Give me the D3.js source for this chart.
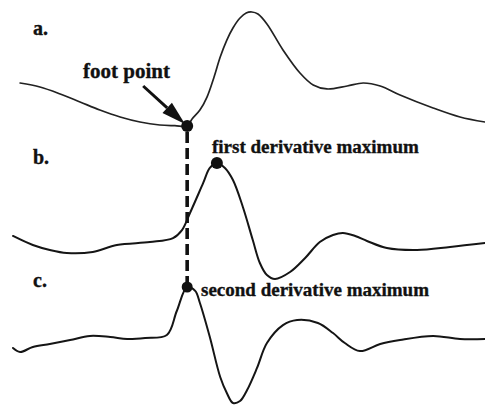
<!DOCTYPE html>
<html>
<head>
<meta charset="utf-8">
<script src="https://cdn.jsdelivr.net/npm/d3@7"></script>
<style>
  html, body { margin: 0; padding: 0; background: #fff; }
  svg { display: block; }
  text { font-family: "Liberation Serif", "Times New Roman", serif; font-weight: bold; fill: #111; stroke: #111; stroke-width: 0.35; }
</style>
</head>
<body>
<svg id="chart" width="485" height="405"></svg>
<script>
// ---- Data (time in ms, amplitude normalised 0..100 per trace) ----
const timeA = [15, 57, 100, 142, 184, 227, 269, 311, 343, 369, 379, 396, 411, 426, 439, 453, 466, 481, 494, 506, 519, 538, 572, 608, 636, 665, 708, 742, 778, 820, 890, 947, 1000];
const valuesA = [37.7, 34.2, 28.1, 21.1, 14.0, 7.9, 3.5, 0.9, 0.3, 0, 6.0, 14.0, 25.4, 43.0, 60.5, 75.4, 86.0, 94.7, 99.1, 100, 98.2, 89.5, 66.7, 46.5, 36.0, 32.5, 35.1, 37.7, 35.1, 27.2, 15.8, 7.9, 3.5];

const timeB = [0, 42, 78, 114, 169, 220, 290, 339, 358, 375, 403, 417, 432, 449, 466, 487, 508, 523, 538, 555, 587, 619, 650, 678, 699, 725, 750, 792, 856, 926, 1000];
const valuesB = [37.1, 29.3, 25.0, 22.4, 23.3, 29.3, 31.9, 35.3, 42.2, 56.9, 82.8, 95.7, 100, 95.7, 85.3, 62.1, 33.6, 13.8, 3.4, 0, 6.0, 18.1, 31.9, 37.9, 39.7, 37.1, 32.8, 26.7, 25.0, 27.6, 31.0];

const timeC = [0, 15, 42, 78, 121, 163, 206, 242, 280, 326, 347, 369, 386, 396, 417, 439, 453, 466, 481, 496, 517, 538, 572, 602, 646, 678, 703, 735, 778, 820, 890, 947, 1000];
const valuesC = [47.4, 44.0, 48.3, 50.9, 54.3, 57.8, 56.9, 55.2, 56.0, 58.6, 79.3, 100, 96.6, 86.2, 56.9, 22.4, 8.6, 0, 1.7, 11.2, 30.2, 51.7, 67.2, 71.6, 69.0, 60.3, 51.7, 44.8, 50.9, 54.3, 57.8, 55.2, 55.2];

const panelLabels = ["a.", "b.", "c."];
const footPoint = { t: 369, v: 0 };
const firstDerivMax = { t: 432, v: 100 };
const secondDerivMax = { t: 369, v: 100 };
const annotationTexts = ["foot point", "first derivative maximum", "second derivative maximum"];

// ---- Scales ----
const svg = d3.select("#chart");
const x = d3.scaleLinear().domain([0, 1000]).range([13, 485]);
const yA = d3.scaleLinear().domain([0, 100]).range([126, 12]);
const yB = d3.scaleLinear().domain([0, 100]).range([279, 163]);
const yC = d3.scaleLinear().domain([0, 100]).range([403, 287]);

function trace(times, vals, y, width, color) {
  const data = times.map((t, i) => [t, vals[i]]);
  const line = d3.line().x(d => x(d[0])).y(d => y(d[1])).curve(d3.curveCatmullRom.alpha(0.5));
  svg.append("path").datum(data).attr("d", line)
    .attr("fill", "none").attr("stroke", color).attr("stroke-width", width)
    .attr("stroke-linejoin", "round").attr("stroke-linecap", "round");
}

trace(timeA, valuesA, yA, 1.7, "#222");
trace(timeB, valuesB, yB, 2, "#151515");
trace(timeC, valuesC, yC, 2, "#151515");

// dashed vertical line from foot point to second derivative maximum
svg.append("line")
  .attr("x1", x(footPoint.t)).attr("x2", x(secondDerivMax.t))
  .attr("y1", yA(footPoint.v) + 6).attr("y2", yC(secondDerivMax.v) - 5)
  .attr("stroke", "#111").attr("stroke-width", 3.6)
  .attr("stroke-dasharray", "11,5");

// markers
svg.append("circle").attr("cx", x(footPoint.t)).attr("cy", yA(footPoint.v)).attr("r", 6).attr("fill", "#111");
svg.append("circle").attr("cx", x(firstDerivMax.t)).attr("cy", yB(firstDerivMax.v)).attr("r", 6).attr("fill", "#111");
svg.append("circle").attr("cx", x(secondDerivMax.t)).attr("cy", yC(secondDerivMax.v)).attr("r", 5.5).attr("fill", "#111");

// arrow to foot point
const fx = x(footPoint.t), fy = yA(footPoint.v);
const sx = fx - 44, sy = fy - 40;
const ang = Math.atan2(fy - sy, fx - sx);
const tipX = fx - 3 * Math.cos(ang), tipY = fy - 3 * Math.sin(ang);
const headLen = 24, headW = 7;
const bx = tipX - headLen * Math.cos(ang), by = tipY - headLen * Math.sin(ang);
svg.append("line").attr("x1", sx).attr("y1", sy).attr("x2", bx).attr("y2", by)
  .attr("stroke", "#111").attr("stroke-width", 3);
svg.append("polygon")
  .attr("points", [
    [tipX, tipY],
    [bx - headW * Math.sin(ang), by + headW * Math.cos(ang)],
    [bx + headW * Math.sin(ang), by - headW * Math.cos(ang)]
  ].map(p => p.join(",")).join(" "))
  .attr("fill", "#111");

// labels
const labelY = [35, 164, 287];
panelLabels.forEach((l, i) => {
  svg.append("text").attr("x", 33).attr("y", labelY[i]).attr("font-size", 20).text(l);
});
svg.append("text").attr("x", 83).attr("y", 78).attr("font-size", 21).text(annotationTexts[0]);
svg.append("text").attr("x", 212).attr("y", 153).attr("font-size", 19).text(annotationTexts[1]);
svg.append("text").attr("x", 201).attr("y", 296).attr("font-size", 19).text(annotationTexts[2]);
</script>
</body>
</html>
